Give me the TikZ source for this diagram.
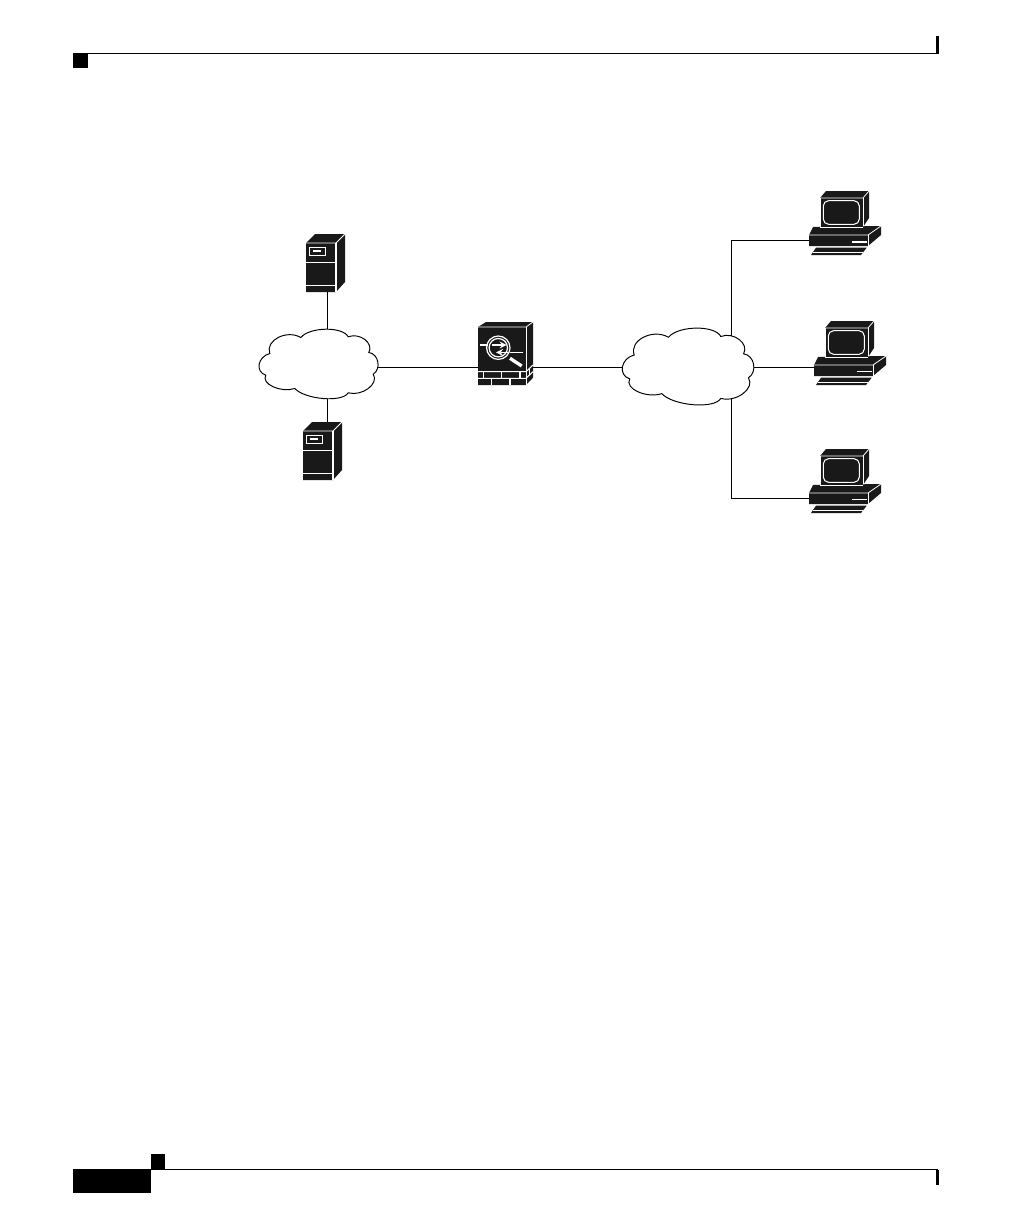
\documentclass[tikz,border=0pt]{standalone}
\usepackage{tikz}
\usetikzlibrary{arrows,backgrounds}

\begin{document}
\begin{tikzpicture}[
    x=0.02cm, y=-0.02cm,
    link/.style={line width=0.55pt, draw=black},
    solid dark/.style={fill=black!90, draw=none},
    white trim/.style={draw=white, line width=0.45pt},
    pics/netcloud/.style={code={
        \coordinate (-mid) at (0,3.5);
        \coordinate (-tap) at (39,0);
        \draw[link, fill=white] (-17.7,-26)
            .. controls (-8.9,-36.7) and (24.3,-37.2) .. (29.7,-26.7)
            .. controls (41.2,-31.2) and (55.6,-20.3) .. (50.3,-11)
            .. controls (60.1,-9.8) and (63.1,5.3) .. (54.7,10.7)
            .. controls (61,20.2) and (43.5,33.2) .. (29.7,29.3)
            .. controls (24,39.2) and (-13.4,36.1) .. (-23.7,25)
            .. controls (-37.6,29.6) and (-57.8,20.3) .. (-52.7,11.7)
            .. controls (-63.6,8.2) and (-60.8,-6.9) .. (-48.7,-10)
            .. controls (-53.55,-23.1) and (-31.85,-34.3) .. (-17.7,-26) -- cycle;
    }},
    pics/serverbox/.style={code={
        \coordinate (-bottom) at (6,24.5);
        \coordinate (-top) at (9,-33.5);
        \fill[solid dark] (-15,-24.5) -- (-6,-33.5) -- (24,-33.5) -- (24,14.5) -- (15,24.5) -- (-15,24.5) -- cycle;
        \draw[white trim] (-15,-24.5) -- (15,-24.5) -- (24,-33.5);
        \draw[white trim, line width=0.7pt] (15,-24.5) -- (15,24.5);
        \draw[white trim] (-15,-5.5) -- (15,-5.5);
        \draw[white trim] (-15,17.5) -- (15,17.5);
        \draw[white trim] (-12,-20.5) rectangle (4,-12.5);
        \draw[white trim, line width=0.7pt] (-8,-16.5) -- (0,-16.5);
    }},
    pics/firewallbox/.style={code={
        \coordinate (-west) at (-24,11);
        \coordinate (-east) at (31,11);
        \fill[solid dark] (-24,-29) -- (-16,-34) -- (31,-34) -- (31,21.7) -- (24,29) -- (-24,29) -- cycle;
        \draw[white trim] (-24,-29) -- (24,-29) -- (31,-34);
        \draw[white trim] (24,-29) -- (24,29);
        % wall
        \draw[white trim, line width=0.6pt] (-24,15.7) -- (24,15.7) -- (31,9);
        \draw[white trim, line width=0.6pt] (-24,22.3) -- (24,22.3) -- (31,15.7);
        \foreach \bx in {-18.7,-0.3,18} \draw[white trim, line width=0.6pt] (\bx,15.7) -- (\bx,22.3);
        \foreach \bx in {-10.3,8} \draw[white trim, line width=0.6pt] (\bx,22.3) -- (\bx,29);
        \draw[white trim, line width=0.6pt] (27.5,13) -- (27.5,19);
        % lens
        \draw[white trim, line width=0.6pt] (-22,-11) -- (-14,-11);
        \draw[white trim, line width=0.6pt] (8,-3.3) -- (21,-3.3);
        \draw[white trim, line width=0.7pt] (-3.7,-8.3) circle [radius=11.7];
        \draw[white trim, line width=0.7pt] (-3.7,-8.3) circle [radius=9.2];
        \draw[white trim, line width=1.9pt] (8,2.3) -- (19.7,10);
        \draw[white trim, line width=0.8pt, ->, >=stealth] (-10.3,-11) -- (4.7,-11);
        \draw[white trim, line width=0.8pt, ->, >=stealth] (6.3,-3.6) -- (-6,-3.6);
    }},
    pics/pcbox/.style={code={
        \coordinate (-port) at (-31,0.5);
        \fill[solid dark] (-20,-42) -- (-14,-49) -- (29,-49) -- (29,-22) -- (23,-13) -- (-20,-13) -- cycle;
        \draw[white trim] (-20,-42) -- (23,-42) -- (29,-49);
        \draw[white trim] (-20,-42) -- (-20,-13);
        \draw[white trim] (23,-42) -- (23,-13);
        \draw[white trim, line width=0.6pt, rounded corners=3pt] (-16.7,-39.3) rectangle (19.3,-15.7);
        \fill[solid dark] (-27,-13) -- (41,-14) -- (41,-5) -- (28,6) -- (-31,6) -- (-31,-5) -- cycle;
        \draw[white trim] (-20,-13) -- (23,-13);
        \draw[white trim] (-31,-5) -- (28,-5) -- (41,-14);
        \draw[white trim] (28,-5) -- (28,6);
        \draw[white, line width=#1] (11.7,1.7) -- (27,1.7);
        \fill[solid dark] (-24,7.7) -- (26.7,7.7) -- (21,15) -- (-29,15) -- cycle;
        \draw[white trim] (-27,12.7) -- (22.5,12.7);
    }},
]
    % page furniture
    \useasboundingbox (0,0) rectangle (1008,1224);
    \fill[black] (73,53) rectangle (88,68);
    \fill[black] (88,53) rectangle (938,54.4);
    \fill[black] (936,36) rectangle (939,54.4);
    \fill[black] (73,1169) rectangle (151,1193);
    \fill[black] (151,1154) rectangle (165,1169);
    \fill[black] (151,1169) rectangle (938,1170.4);
    \fill[black] (936,1170) rectangle (939,1185);

    \pic (srvA) at (321,267.5) {serverbox};
    \pic (srvB) at (318,455.5) {serverbox};
    \pic (cloudL) at (318.5,363.5) {netcloud};
    \pic (fwA) at (502,356) {firewallbox};
    \pic[scale=1.105] (cloudR) at (688,366) {netcloud};
    \pic (pcA) at (840,240) {pcbox=1.3pt};
    \pic (pcB) at (845,370) {pcbox=0.5pt};
    \pic (pcC) at (840,498) {pcbox=0.5pt};

    \begin{scope}[on background layer]
        \fill[white] (0,0) rectangle (1008,1224);
        \draw[link] (srvA-bottom) -- (srvA-bottom |- cloudL-mid);
        \draw[link] (srvB-top) -- (srvB-top |- cloudL-mid);
        \draw[link] (fwA-west) -- (fwA-west -| cloudL-mid);
        \draw[link] (fwA-east) -- (fwA-east -| cloudR-mid);
        \draw[link] (pcA-port) -| (cloudR-tap);
        \draw[link] (fwA-east -| cloudR-mid) -- (fwA-east -| pcB-port);
        \draw[link] (pcC-port) -| (cloudR-tap);
    \end{scope}
\end{tikzpicture}
\end{document}
